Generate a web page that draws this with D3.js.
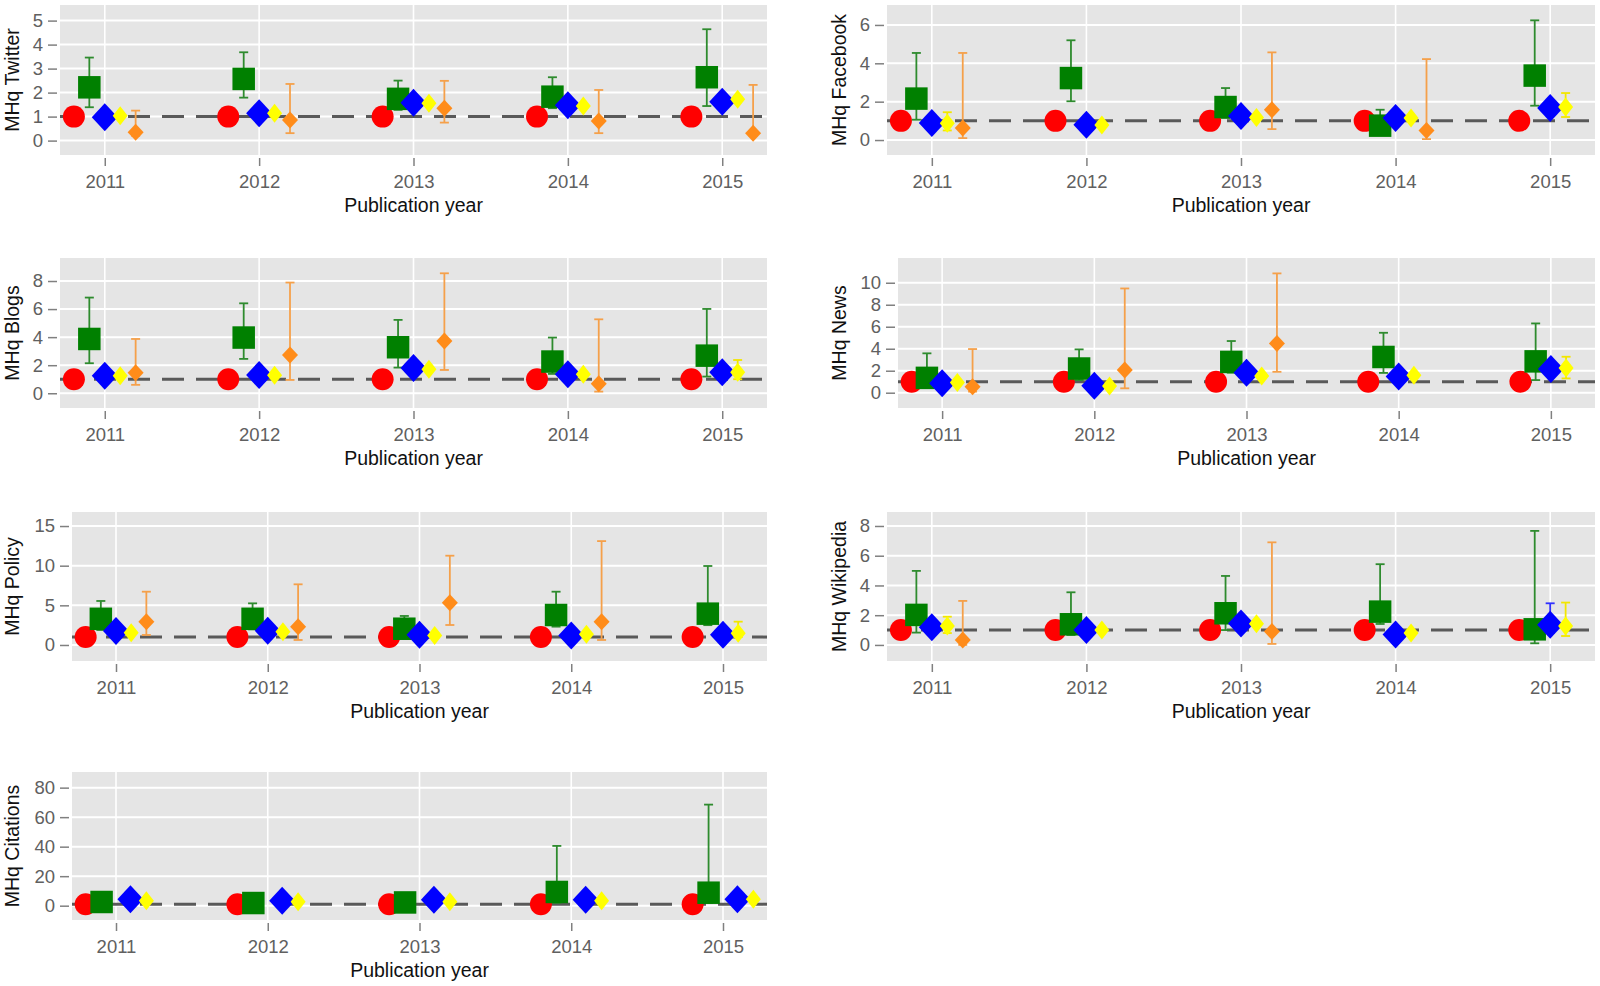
<!DOCTYPE html>
<html>
<head>
<meta charset="utf-8">
<script src="https://cdn.jsdelivr.net/npm/d3@7"></script>
<style>
  html, body { margin: 0; padding: 0; background: #ffffff; }
  svg { display: block; }
  text { font-family: "Liberation Sans", Arial, sans-serif; }
</style>
</head>
<body>
<svg id="chart" width="1600" height="986"></svg>
<script>
// ---------------- data ----------------
const years = ["2011", "2012", "2013", "2014", "2015"];
const panelTitles = ["MHq Twitter", "MHq Facebook", "MHq Blogs", "MHq News", "MHq Policy", "MHq Wikipedia", "MHq Citations"];
const xAxisTitle = "Publication year";
const yTickValues = [
  [0, 1, 2, 3, 4, 5],
  [0, 2, 4, 6],
  [0, 2, 4, 6, 8],
  [0, 2, 4, 6, 8, 10],
  [0, 5, 10, 15],
  [0, 2, 4, 6, 8],
  [0, 20, 40, 60, 80]
];
const yLimits = [
  [-0.6, 5.65],
  [-0.78, 7.04],
  [-1.05, 9.64],
  [-1.39, 12.25],
  [-2.02, 16.77],
  [-1.08, 8.94],
  [-9.7, 90.6]
];
const referenceLine = 1;

// red series: reference group (always 1)
const redMid = [1, 1, 1, 1, 1];

// green squares
const greenMid = [
  [2.22, 2.57, 1.74, 1.83, 2.64],
  [2.16, 3.23, 1.72, 0.75, 3.36],
  [3.87, 3.97, 3.28, 2.26, 2.68],
  [1.35, 2.2, 2.8, 3.25, 2.85],
  [3.3, 3.3, 2.05, 3.78, 3.95],
  [2.02, 1.39, 2.13, 2.24, 1.05],
  [2.5, 1.8, 2.2, 9.3, 8.8]
];
const greenLo = [
  [1.39, 1.79, 1.28, 1.35, 1.44],
  [1.06, 2.02, 1.15, 0.3, 1.79],
  [2.14, 2.45, 1.83, 1.38, 1.19],
  [0.6, 1.15, 1.82, 1.8, 1.15],
  [1.89, 1.97, 0.84, 2.31, 2.5],
  [0.83, 0.67, 1.0, 1.41, 0.11],
  [null, null, null, 2.0, 2.0]
];
const greenHi = [
  [3.46, 3.68, 2.5, 2.64, 4.64],
  [4.54, 5.2, 2.71, 1.58, 6.24],
  [6.82, 6.41, 5.23, 3.97, 6.01],
  [3.58, 3.94, 4.7, 5.45, 6.3],
  [5.55, 5.25, 3.66, 6.72, 9.96],
  [4.98, 3.54, 4.64, 5.43, 7.67],
  [null, null, null, 40.5, 68.5]
];

// blue diamonds
const blueMid = [
  [0.97, 1.14, 1.58, 1.47, 1.62],
  [0.89, 0.8, 1.25, 1.15, 1.67],
  [1.25, 1.3, 1.8, 1.35, 1.5],
  [0.87, 0.64, 1.82, 1.47, 2.15],
  [1.76, 1.8, 1.3, 1.2, 1.3],
  [1.19, 1.01, 1.45, 0.7, 1.35],
  [4.4, 3.3, 4.0, 4.0, 4.4]
];
const blueLo = [
  [null, null, null, null, null],
  [null, null, null, null, null],
  [null, null, null, null, null],
  [null, null, null, null, null],
  [null, null, null, null, null],
  [null, null, null, null, 0.8],
  [null, null, null, null, null]
];
const blueHi = [
  [null, null, null, null, null],
  [null, null, null, null, null],
  [null, null, null, null, null],
  [null, null, null, null, null],
  [null, null, null, null, null],
  [null, null, null, null, 2.8],
  [null, null, null, null, null]
];

// yellow diamonds
const yellowMid = [
  [1.04, 1.14, 1.56, 1.44, 1.72],
  [0.87, 0.78, 1.18, 1.15, 1.72],
  [1.24, 1.28, 1.71, 1.35, 1.5],
  [0.93, 0.62, 1.52, 1.58, 2.25],
  [1.55, 1.68, 1.18, 1.34, 1.47],
  [1.28, 1.01, 1.42, 0.8, 1.28],
  [3.3, 2.7, 2.7, 3.3, 4.4]
];
const yellowLo = [
  [null, null, null, null, null],
  [0.5, null, null, null, 1.2],
  [null, null, null, null, 1.0],
  [null, null, null, null, 1.3],
  [null, null, null, null, 1.0],
  [0.8, null, null, null, 0.6],
  [null, null, null, null, null]
];
const yellowHi = [
  [null, null, null, null, null],
  [1.45, null, null, null, 2.45],
  [null, null, null, null, 2.37],
  [null, null, null, null, 3.27],
  [null, null, null, null, 2.94],
  [1.9, null, null, null, 2.85],
  [null, null, null, null, null]
];

// orange small diamonds
const orangeMid = [
  [0.35, 0.86, 1.35, 0.82, 0.31],
  [0.63, null, 1.58, 0.5, null],
  [1.47, 2.73, 3.73, 0.67, null],
  [0.55, 2.06, 4.48, null, null],
  [2.94, 2.31, 5.34, 2.94, null],
  [0.34, null, 0.9, null, null],
  null
];
const orangeLo = [
  [0.2, 0.31, 0.75, 0.31, 0.2],
  [0.1, null, 0.57, 0.05, null],
  [0.6, 0.95, 1.66, 0.12, null],
  [0.1, 0.4, 1.9, null, null],
  [1.26, 0.63, 2.52, 0.63, null],
  [0.0, null, 0.07, null, null],
  null
];
const orangeHi = [
  [1.25, 2.36, 2.49, 2.11, 2.32],
  [4.54, null, 4.57, 4.22, null],
  [3.87, 7.89, 8.55, 5.27, null],
  [3.97, 9.48, 10.85, null, null],
  [6.72, 7.65, 11.26, 13.1, null],
  [2.96, null, 6.9, null, null],
  null
];

// ---------------- layout / style ----------------
const panelRects = [
  { l: 60, r: 767, t: 5, b: 155, tx: 19 },
  { l: 887, r: 1595, t: 5, b: 155, tx: 846 },
  { l: 60, r: 767, t: 258, b: 408, tx: 19 },
  { l: 898, r: 1595, t: 258, b: 408, tx: 846 },
  { l: 72, r: 767, t: 512, b: 661, tx: 19 },
  { l: 887, r: 1595, t: 512, b: 661, tx: 846 },
  { l: 72, r: 767, t: 772, b: 920, tx: 19 }
];

const seriesStyle = {
  red:    { fill: "#ff0000", bar: "#ff0000", shape: "circle", r: 11 },
  green:  { fill: "#008000", bar: "#2e8b2e", shape: "square", s: 11.25 },
  blue:   { fill: "#0000ff", bar: "#3030ff", shape: "diamond", hw: 13, hh: 14 },
  yellow: { fill: "#ffff00", bar: "#f2e600", shape: "diamond", hw: 7.5, hh: 9.5 },
  orange: { fill: "#ff8c1a", bar: "#f5a04a", shape: "diamond", hw: 8, hh: 8.5 }
};

const tickColor = "#606060";
const svg = d3.select("#chart");

panelTitles.forEach((title, i) => {
  const rc = panelRects[i];
  const g = svg.append("g");

  const x = d3.scalePoint().domain(years).range([rc.l, rc.r]).padding(0.29);
  const y = d3.scaleLinear().domain(yLimits[i]).range([rc.b, rc.t]);
  const step = x.step();

  // background
  g.append("rect")
    .attr("x", rc.l).attr("y", rc.t)
    .attr("width", rc.r - rc.l).attr("height", rc.b - rc.t)
    .attr("fill", "#e5e5e5");

  // grid
  g.selectAll(".hg").data(yTickValues[i]).enter().append("line")
    .attr("x1", rc.l).attr("x2", rc.r)
    .attr("y1", d => y(d)).attr("y2", d => y(d))
    .attr("stroke", "#ffffff").attr("stroke-width", 2);
  g.selectAll(".vg").data(years).enter().append("line")
    .attr("x1", d => x(d)).attr("x2", d => x(d))
    .attr("y1", rc.t).attr("y2", rc.b)
    .attr("stroke", "#ffffff").attr("stroke-width", 1.6);

  // reference dashed line
  g.append("line")
    .attr("x1", rc.l).attr("x2", rc.r)
    .attr("y1", y(referenceLine)).attr("y2", y(referenceLine))
    .attr("stroke", "#595959").attr("stroke-width", 3)
    .attr("stroke-dasharray", "22,12");

  // series
  const series = [
    { key: "red", mid: redMid, lo: null, hi: null },
    { key: "green", mid: greenMid[i], lo: greenLo[i], hi: greenHi[i] },
    { key: "blue", mid: blueMid[i], lo: blueLo[i], hi: blueHi[i] },
    { key: "yellow", mid: yellowMid[i], lo: yellowLo[i], hi: yellowHi[i] },
    { key: "orange", mid: orangeMid[i], lo: orangeLo[i], hi: orangeHi[i] }
  ].filter(s => s.mid);

  const offsets = series.length === 5 ? [-0.2, -0.1, 0, 0.1, 0.2] : [-0.2, -0.095, 0.095, 0.2];

  series.forEach((s, k) => {
    const st = seriesStyle[s.key];
    const pts = years.map((yr, j) => ({
      cx: x(yr) + offsets[k] * step,
      v: s.mid[j],
      lo: s.lo ? s.lo[j] : null,
      hi: s.hi ? s.hi[j] : null
    })).filter(p => p.v !== null && p.v !== undefined);

    const sg = g.append("g");
    // error bars
    pts.filter(p => p.lo !== null && p.hi !== null).forEach(p => {
      const eb = sg.append("g").attr("stroke", st.bar).attr("stroke-width", 1.8).attr("fill", "none");
      eb.append("line").attr("x1", p.cx).attr("x2", p.cx).attr("y1", y(p.lo)).attr("y2", y(p.hi));
      eb.append("line").attr("x1", p.cx - 4.5).attr("x2", p.cx + 4.5).attr("y1", y(p.hi)).attr("y2", y(p.hi));
      eb.append("line").attr("x1", p.cx - 4.5).attr("x2", p.cx + 4.5).attr("y1", y(p.lo)).attr("y2", y(p.lo));
    });
    // markers
    pts.forEach(p => {
      const cy = y(p.v);
      if (st.shape === "circle") {
        sg.append("circle").attr("cx", p.cx).attr("cy", cy).attr("r", st.r).attr("fill", st.fill);
      } else if (st.shape === "square") {
        sg.append("rect").attr("x", p.cx - st.s).attr("y", cy - st.s)
          .attr("width", 2 * st.s).attr("height", 2 * st.s).attr("fill", st.fill);
      } else {
        const path = `M${p.cx},${cy - st.hh}L${p.cx + st.hw},${cy}L${p.cx},${cy + st.hh}L${p.cx - st.hw},${cy}Z`;
        sg.append("path").attr("d", path).attr("fill", st.fill);
      }
    });
  });

  // y axis
  const yAxis = g.append("g")
    .attr("transform", `translate(${rc.l - 3},0)`)
    .call(d3.axisLeft(y).tickValues(yTickValues[i]).tickSize(9).tickPadding(5).tickFormat(d3.format("d")));
  yAxis.select(".domain").remove();
  yAxis.selectAll(".tick line").attr("stroke", "#808080").attr("stroke-width", 1.5);
  yAxis.selectAll(".tick text").attr("fill", tickColor).style("font-size", "18.5px")
    .style("font-family", "'Liberation Sans', Arial, sans-serif");

  // x axis
  const xAxis = g.append("g")
    .attr("transform", `translate(0,${rc.b + 3})`)
    .call(d3.axisBottom(x).tickSize(8).tickPadding(9));
  xAxis.select(".domain").remove();
  xAxis.selectAll(".tick line").attr("stroke", "#808080").attr("stroke-width", 1.5);
  xAxis.selectAll(".tick text").attr("fill", tickColor).style("font-size", "18.5px")
    .style("font-family", "'Liberation Sans', Arial, sans-serif");

  // axis titles
  g.append("text")
    .attr("x", (rc.l + rc.r) / 2).attr("y", rc.b + 57)
    .attr("text-anchor", "middle")
    .attr("fill", "#111111")
    .style("font-size", "19.5px")
    .text(xAxisTitle);

  g.append("text")
    .attr("transform", `translate(${rc.tx},${(rc.t + rc.b) / 2}) rotate(-90)`)
    .attr("text-anchor", "middle")
    .attr("fill", "#111111")
    .style("font-size", "19.5px")
    .text(title);
});
</script>
</body>
</html>
